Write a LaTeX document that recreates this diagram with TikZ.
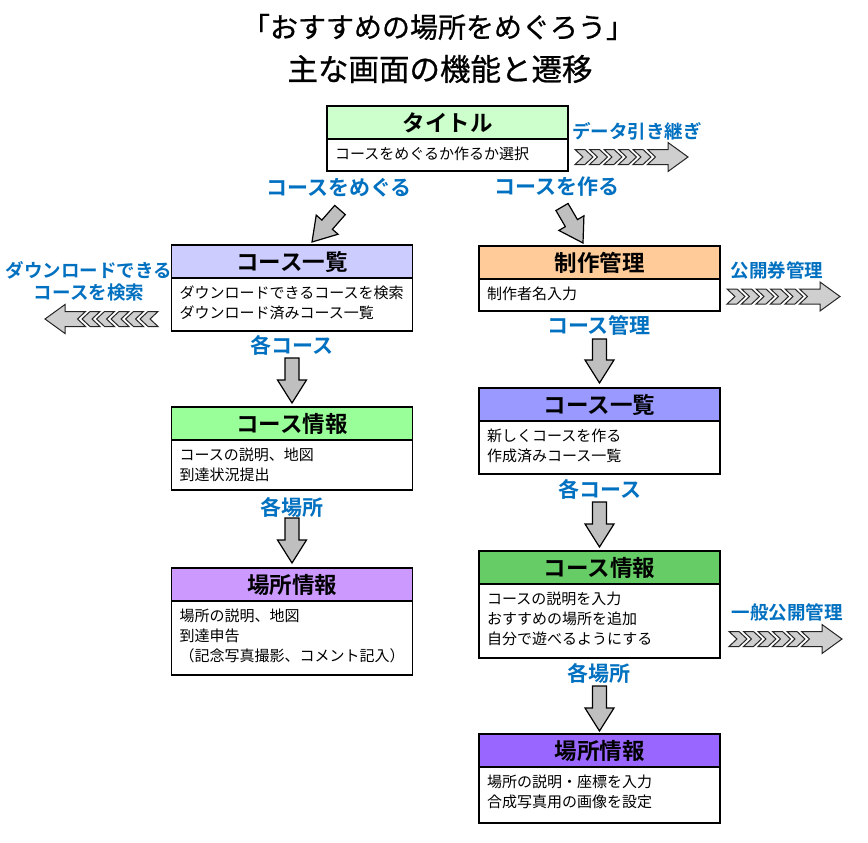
\documentclass[tikz,border=0pt]{standalone}
\usepackage{fontspec}
\setmainfont{Noto Sans CJK JP}[BoldFont={Noto Sans CJK JP Bold}]
\newfontfamily\ttlfont{Noto Sans CJK JP}[FakeBold=0.7]
\usetikzlibrary{calc}
\definecolor{lblblue}{HTML}{0070C0}
\definecolor{cTitle}{HTML}{CCFFCC}
\definecolor{cLlist}{HTML}{CCCCFF}
\definecolor{cLinfo}{HTML}{99FF99}
\definecolor{cLplace}{HTML}{CC99FF}
\definecolor{cRmgr}{HTML}{FFCC99}
\definecolor{cRlist}{HTML}{9999FF}
\definecolor{cRinfo}{HTML}{66CC66}
\definecolor{cRplace}{HTML}{9966FF}
\definecolor{arrgray}{HTML}{BFBFBF}
\definecolor{chevgray}{HTML}{CFCFCF}
\tikzset{
  hdr/.style={draw, line width=1.2pt, minimum width=241pt, minimum height=33pt, inner sep=0pt, outer sep=0pt,
    font=\bfseries\fontsize{22.5}{24}\selectfont},
  bdy/.style={draw, line width=1.2pt, fill=white, minimum width=241pt, inner sep=0pt, outer sep=0pt},
  btxt/.style={inner sep=0pt, align=left, font=\fontsize{15}{20}\selectfont},
  lbl/.style={inner sep=0pt, text=lblblue, font=\bfseries\fontsize{21}{23}\selectfont},
  slbl/.style={inner sep=0pt, text=lblblue, align=center, font=\bfseries\fontsize{18.5}{22}\selectfont},
  ttl/.style={inner sep=0pt},
  blockarrow/.style={draw=black, line width=1.2pt, fill=arrgray, line join=miter},
  chevstyle/.style={draw=black!85, line width=1pt, fill=chevgray, line join=miter},
  chev/.pic={
    \foreach \i in {0,14.5,29,43.5,58}{
      \draw[chevstyle] (\i,-7.5) -- (\i+10,-7.5) -- (\i+18,0) -- (\i+10,7.5) -- (\i,7.5) -- (\i+8,0) -- cycle;
    }
    \draw[chevstyle] (72.5,-7.5) -- (93,-7.5) -- (93,-14.5) -- (113,0) -- (93,14.5) -- (93,7.5) -- (72.5,7.5) -- (80.5,0) -- cycle;
  }
}
% screen box: name, x, y top, color, title, body height, body text
\newcommand\scrbox[7]{%
  \node[hdr, fill=#4, anchor=north] (#1h) at (#2,#3) {#5};
  \node[bdy, minimum height=#6pt, anchor=north] (#1b) at (#1h.south) {};
  \node[btxt, anchor=north west] (#1t) at ([xshift=8pt,yshift=-7.5pt]#1b.north west) {#7};
}
% block arrow: name, from, to
\newcommand\blockarr[3]{%
  \coordinate (#1m) at ($(#3)!23pt!(#2)$);
  \draw[blockarrow] ($(#2)!7pt!90:(#3)$) -- ($(#1m)!7pt!-90:(#2)$) -- ($(#1m)!14.5pt!-90:(#2)$) -- (#3)
    -- ($(#1m)!14.5pt!90:(#2)$) -- ($(#1m)!7pt!90:(#2)$) -- ($(#2)!7pt!-90:(#3)$) -- cycle;
}
\begin{document}
\begin{tikzpicture}[x=1pt,y=-1pt]
\useasboundingbox (0,0) rectangle (868,843);
\fill[white] (0,0) rectangle (868,843);

% title
\node[ttl, font=\ttlfont\fontsize{28}{30}\selectfont] (title1) at (438,27) {「おすすめの場所をめぐろう」};
\node[ttl, font=\ttlfont\fontsize{30.5}{32}\selectfont] (title2) at (440,69) {主な画面の機能と遷移};

% boxes
\scrbox{T}{447.5}{106}{cTitle}{タイトル}{32}{コースをめぐるか作るか選択}
\scrbox{La}{292}{245}{cLlist}{コース一覧}{53}{ダウンロードできるコースを検索\\ダウンロード済みコース一覧}
\scrbox{Lb}{292}{407}{cLinfo}{コース情報}{50}{コースの説明、地図\\到達状況提出}
\scrbox{Lc}{292}{568}{cLplace}{場所情報}{74}{場所の説明、地図\\到達申告\\（記念写真撮影、コメント記入）}
\scrbox{Ra}{599.5}{246}{cRmgr}{制作管理}{32}{制作者名入力}
\scrbox{Rb}{599.5}{388}{cRlist}{コース一覧}{53}{新しくコースを作る\\作成済みコース一覧}
\scrbox{Rc}{599.5}{551}{cRinfo}{コース情報}{74}{コースの説明を入力\\おすすめの場所を追加\\自分で遊べるようにする}
\scrbox{Rd}{599.5}{734}{cRplace}{場所情報}{56}{場所の説明・座標を入力\\合成写真用の画像を設定}

% labels
\node[lbl] (lGo) at (339,188) {コースをめぐる};
\node[lbl] (lMake) at (557,187) {コースを作る};
\node[lbl] (lLa) at (292,345) {各コース};
\node[lbl] (lLb) at (292,507) {各場所};
\node[lbl] (lRa) at (599,325) {コース管理};
\node[lbl] (lRb) at (600,489) {各コース};
\node[lbl] (lRc) at (599,673) {各場所};
\node[slbl] (sData) at (637,131) {データ引き継ぎ};
\node[slbl] (sPub) at (777,270) {公開券管理};
\node[slbl] (sGen) at (787,612) {一般公開管理};
\node[slbl] (sDl) at (89,281) {ダウンロードできる\\コースを検索};

% block arrows
\coordinate (aGo1) at (340,210);  \coordinate (aGo2) at (312,242);
\coordinate (aMk1) at (562,207);  \coordinate (aMk2) at (583,243);
\coordinate (aL1s) at ([yshift=-27pt]Lab.south);  \coordinate (aL1e) at ([yshift=4pt]Lbh.north);
\coordinate (aL2s) at ([yshift=-28pt]Lbb.south);  \coordinate (aL2e) at ([yshift=5pt]Lch.north);
\coordinate (aR1s) at ([yshift=-28pt]Rab.south); \coordinate (aR1e) at ([yshift=5pt]Rbh.north);
\coordinate (aR2s) at ([yshift=-28pt]Rbb.south); \coordinate (aR2e) at ([yshift=4pt]Rch.north);
\coordinate (aR3s) at ([yshift=-28pt]Rcb.south); \coordinate (aR3e) at ([yshift=3pt]Rdh.north);
\blockarr{bGo}{aGo1}{aGo2}
\blockarr{bMk}{aMk1}{aMk2}
\blockarr{bL1}{aL1s}{aL1e}
\blockarr{bL2}{aL2s}{aL2e}
\blockarr{bR1}{aR1s}{aR1e}
\blockarr{bR2}{aR2s}{aR2e}
\blockarr{bR3}{aR3s}{aR3e}

% chevron arrows
\pic at (575,157) {chev};
\pic at (727,296.5) {chev};
\pic at (729,639) {chev};
\pic[rotate=180] at (158,319) {chev};
\end{tikzpicture}
\end{document}
